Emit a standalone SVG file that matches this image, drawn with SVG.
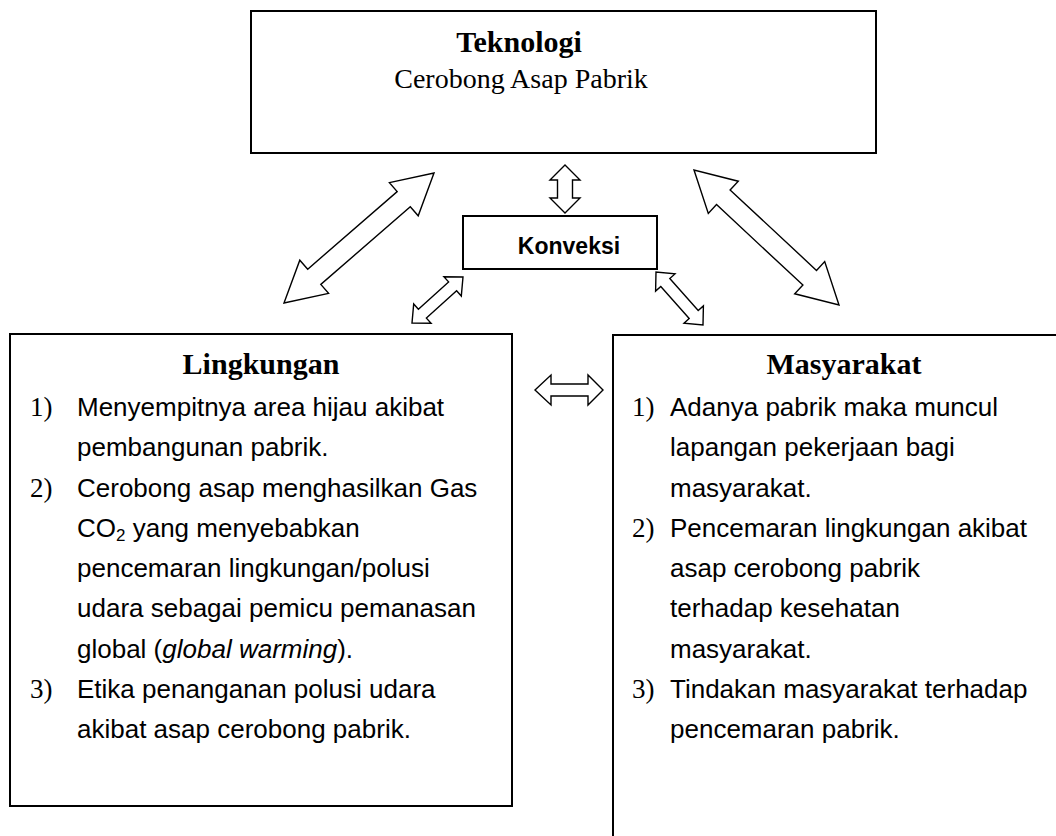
<svg xmlns="http://www.w3.org/2000/svg" width="1056" height="836" viewBox="0 0 1056 836">
<style>
.box{fill:#fff;stroke:#000;stroke-width:2}
.arr{fill:#fff;stroke:#000;stroke-width:1.4;stroke-linejoin:miter}
.head{font-family:"Liberation Serif",serif;font-weight:bold;font-size:30px;fill:#000;text-anchor:middle}
.sub{font-family:"Liberation Serif",serif;font-size:28px;fill:#000;text-anchor:middle}
.num{font-family:"Liberation Serif",serif;font-size:27px;fill:#000}
.body{font-family:"Liberation Sans",Arial,sans-serif;font-size:26px;fill:#000}
.kon{font-family:"Liberation Sans",Arial,sans-serif;font-weight:bold;font-size:23px;fill:#000;text-anchor:middle}
</style>
<rect width="1056" height="836" fill="#fff"/>
<g id="connectors">
<polygon class="arr" points="434,173 418.2,215.8 410.3,206.8 320.8,284.4 328.6,293.4 284,303 299.8,260.2 307.7,269.2 397.2,191.6 389.4,182.6"/>
<polygon class="arr" points="694,170 708.3,213.4 716.5,204.6 802.9,285.1 794.7,293.8 839,305 824.7,261.6 816.5,270.4 730.1,189.9 738.3,181.2"/>
<polygon class="arr" points="565,165 580,180 572.5,180 572.5,198 580,198 565,213 550,198 557.5,198 557.5,180 550,180"/>
<polygon class="arr" points="463,277 461.3,296 456.6,290.8 426.4,318.1 431.1,323.3 412,323 413.7,304 418.4,309.2 448.6,281.9 443.9,276.7"/>
<polygon class="arr" points="656,272 655.6,291.1 660.8,286.5 689.2,318.5 684,323.2 703,325 703.4,305.9 698.2,310.5 669.8,278.5 675,273.9"/>
<polygon class="arr" points="535,390 551,375 551,384 588,384 588,375 603,390 588,405 588,396 551,396 551,405"/>
</g>
<g id="teknologi">
<rect class="box" x="251" y="11" width="625" height="142"/>
<text class="head" x="519" y="52">Teknologi</text>
<text class="sub" x="521" y="88">Cerobong Asap Pabrik</text>
</g>
<g id="konveksi">
<rect class="box" x="463" y="216" width="194" height="53"/>
<text class="kon" x="569" y="254">Konveksi</text>
</g>
<g id="lingkungan">
<rect class="box" x="10" y="334" width="502" height="472"/>
<text class="head" x="261" y="374">Lingkungan</text>
<text class="num" x="30" y="416">1)</text>
<text class="body" x="77" y="416">Menyempitnya area hijau akibat</text>
<text class="body" x="77" y="456">pembangunan pabrik.</text>
<text class="num" x="30" y="497">2)</text>
<text class="body" x="77" y="497">Cerobong asap menghasilkan Gas</text>
<text class="body" x="77" y="537">CO<tspan font-size="17" dy="4">2</tspan><tspan dy="-4"> yang menyebabkan</tspan></text>
<text class="body" x="77" y="577">pencemaran lingkungan/polusi</text>
<text class="body" x="77" y="617">udara sebagai pemicu pemanasan</text>
<text class="body" x="77" y="658">global (<tspan font-style="italic">global warming</tspan>).</text>
<text class="num" x="30" y="698">3)</text>
<text class="body" x="77" y="698">Etika penanganan polusi udara</text>
<text class="body" x="77" y="738">akibat asap cerobong pabrik.</text>
</g>
<g id="masyarakat">
<rect class="box" x="613" y="335" width="500" height="560"/>
<text class="head" x="844" y="374">Masyarakat</text>
<text class="num" x="632" y="416">1)</text>
<text class="body" x="670" y="416">Adanya pabrik maka muncul</text>
<text class="body" x="670" y="456">lapangan pekerjaan bagi</text>
<text class="body" x="670" y="497">masyarakat.</text>
<text class="num" x="632" y="537">2)</text>
<text class="body" x="670" y="537">Pencemaran lingkungan akibat</text>
<text class="body" x="670" y="577">asap cerobong pabrik</text>
<text class="body" x="670" y="617">terhadap kesehatan</text>
<text class="body" x="670" y="658">masyarakat.</text>
<text class="num" x="632" y="698">3)</text>
<text class="body" x="670" y="698">Tindakan masyarakat terhadap</text>
<text class="body" x="670" y="738">pencemaran pabrik.</text>
</g>
</svg>
